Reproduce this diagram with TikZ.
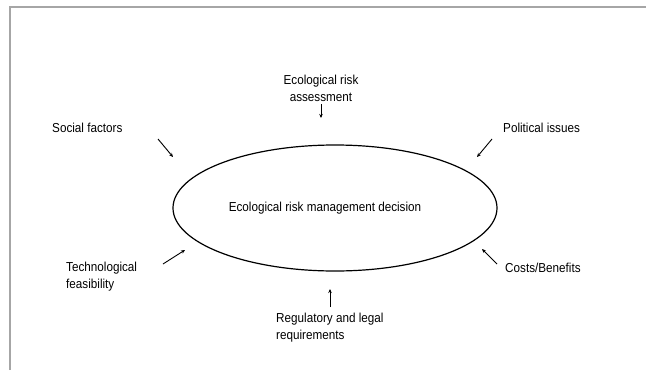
\documentclass[tikz,border=0pt]{standalone}
\usepackage{fontspec}
\setmainfont[FakeStretch=0.9]{Liberation Sans}
\usetikzlibrary{shapes.geometric,arrows.meta}
\begin{document}
\begin{tikzpicture}[x=1pt,y=-1pt,
  lbl/.style={font=\fontsize{13}{17}\selectfont, inner sep=0pt},
  feed/.style={line width=0.9pt, -{Stealth[length=4pt,width=3.5pt]}}]
\useasboundingbox (0,0) rectangle (646,370);
% open frame (top and left edges)
\draw[gray!70, line width=1.6pt] (10,370) -- (10,7) -- (646,7);
% central decision
\node (ell) [ellipse, draw, line width=1.2pt, minimum width=324pt, minimum height=126pt, inner sep=0pt] at (335,208) {};
\node (dec) [lbl] at (325,208) {Ecological risk management decision};
% surrounding factors
\node (era) [lbl, align=center] at (321,88) {Ecological risk\\assessment};
\node (soc) [lbl, anchor=west] at (52,128) {Social factors};
\node (pol) [lbl, anchor=west] at (503,128) {Political issues};
\node (tec) [lbl, anchor=west, align=left] at (66,277) {Technological\\feasibility};
\node (cos) [lbl, anchor=west] at (505,268) {Costs/Benefits};
\node (reg) [lbl, anchor=west, align=left] at (276,328) {Regulatory and legal\\requirements};
% arrow ends
\coordinate (eraS) at (321,104); \coordinate (eraE) at (321,118);
\coordinate (socS) at (158,139); \coordinate (socE) at (173,157);
\coordinate (polS) at (492,139); \coordinate (polE) at (477,157);
\coordinate (tecS) at (163,264); \coordinate (tecE) at (185,250);
\coordinate (cosS) at (497,264); \coordinate (cosE) at (482,249);
\coordinate (regS) at (330,307); \coordinate (regE) at (330,289);
\draw[feed] (eraS) -- (eraE);
\draw[feed] (socS) -- (socE);
\draw[feed] (polS) -- (polE);
\draw[feed] (tecS) -- (tecE);
\draw[feed] (cosS) -- (cosE);
\draw[feed] (regS) -- (regE);
\end{tikzpicture}
\end{document}
